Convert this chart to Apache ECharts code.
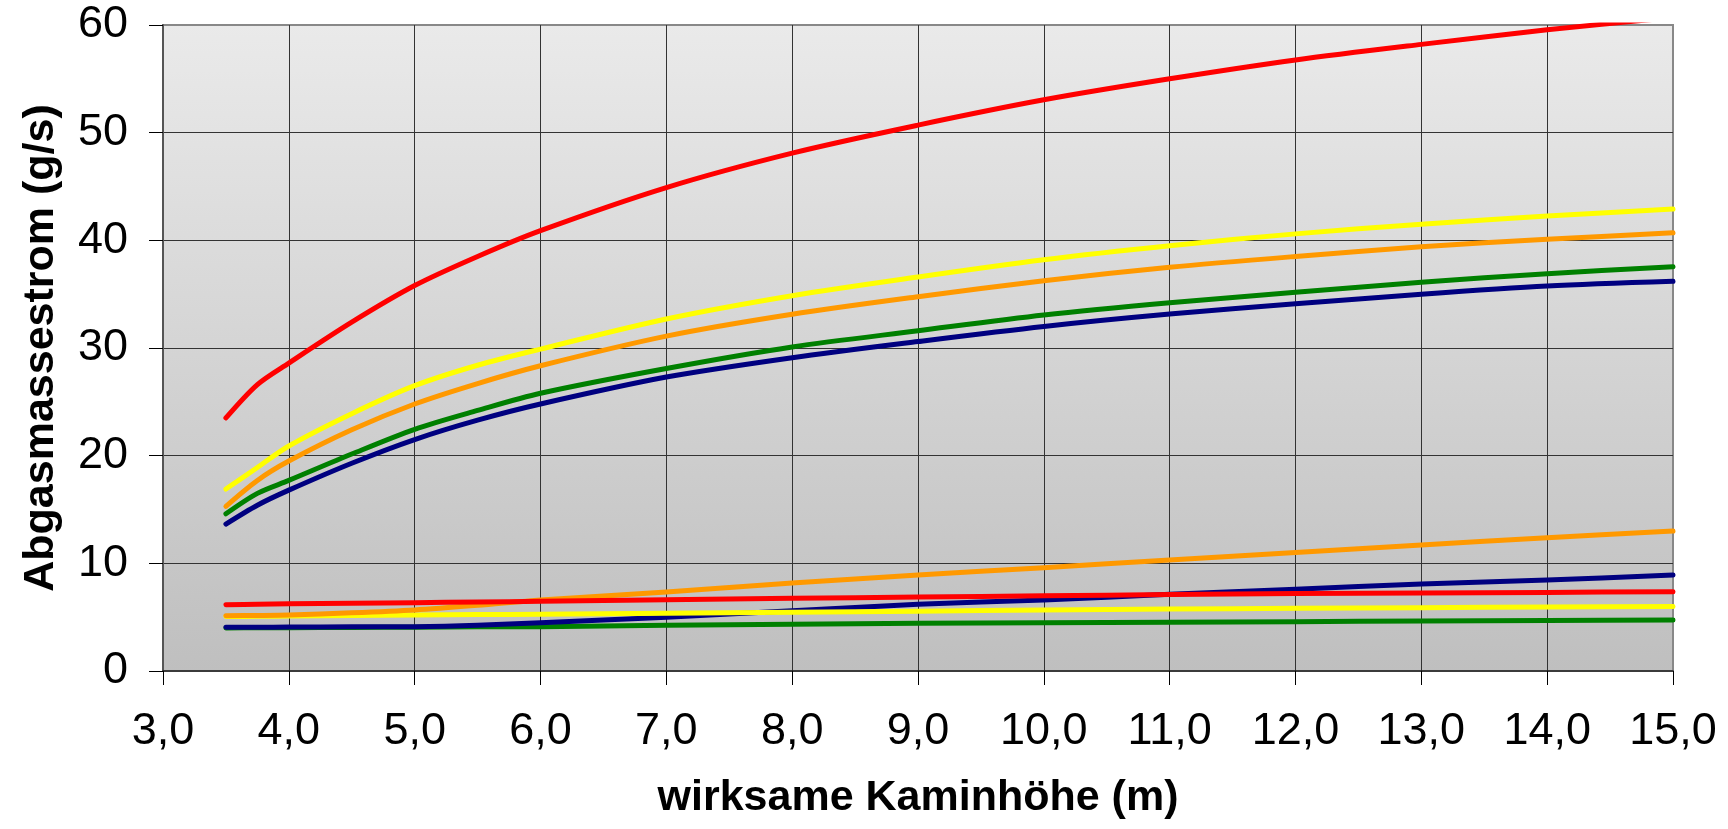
<!DOCTYPE html>
<html>
<head>
<meta charset="utf-8">
<script src="https://cdn.jsdelivr.net/npm/echarts@6/dist/echarts.min.js"></script>
<style>
html,body{margin:0;padding:0;background:#fff;}
#chart{width:1728px;height:829px;}
</style>
</head>
<body>
<div id="chart"></div>
<script>
// x positions (wirksame Kaminhöhe, m)
const xValues = [3.5, 3.75, 4, 4.5, 5, 5.5, 6, 7, 8, 9, 10, 11, 12, 13, 14, 15];

// upper group (g/s)
const upperRed    = [23.5, 26.6, 28.6, 32.4, 35.8, 38.5, 40.9, 44.9, 48.1, 50.7, 53.05, 55.0, 56.75, 58.2, 59.55, 60.7];
const upperYellow = [16.9, 18.9, 20.9, 23.9, 26.5, 28.4, 29.9, 32.7, 34.86, 36.6, 38.2, 39.5, 40.6, 41.5, 42.25, 42.9];
const upperOrange = [15.3, 17.7, 19.5, 22.4, 24.8, 26.7, 28.35, 31.1, 33.13, 34.76, 36.25, 37.5, 38.5, 39.4, 40.1, 40.7];
const upperGreen  = [14.6, 16.5, 17.7, 20.15, 22.45, 24.2, 25.8, 28.1, 30.1, 31.6, 33.06, 34.2, 35.17, 36.1, 36.9, 37.55];
const upperNavy   = [13.65, 15.4, 16.8, 19.3, 21.5, 23.3, 24.8, 27.3, 29.1, 30.6, 32.0, 33.15, 34.1, 35.0, 35.76, 36.2];

// lower group (g/s)
const lowerRed    = [6.16, 6.2, 6.25, 6.3, 6.35, 6.41, 6.47, 6.62, 6.75, 6.87, 6.98, 7.1, 7.2, 7.25, 7.3, 7.37];
const lowerOrange = [5.14, 5.16, 5.2, 5.4, 5.67, 6.1, 6.6, 7.34, 8.17, 8.92, 9.6, 10.31, 11.0, 11.7, 12.38, 13.0];
const lowerYellow = [5.06, 5.08, 5.1, 5.15, 5.2, 5.24, 5.27, 5.36, 5.45, 5.55, 5.67, 5.76, 5.82, 5.88, 5.94, 6.0];
const lowerNavy   = [4.06, 4.07, 4.08, 4.1, 4.12, 4.25, 4.49, 4.99, 5.6, 6.19, 6.6, 7.12, 7.59, 8.08, 8.45, 8.92];
const lowerGreen  = [4.0, 4.01, 4.02, 4.04, 4.07, 4.1, 4.12, 4.24, 4.35, 4.43, 4.48, 4.52, 4.58, 4.64, 4.7, 4.74];

const xTitle = 'wirksame Kaminhöhe (m)';
const yTitle = 'Abgasmassestrom (g/s)';

const RED = '#FF0000', YELLOW = '#FFFF00', ORANGE = '#FF9900', GREEN = '#008000', NAVY = '#000080';

const seriesDefs = [
  [upperNavy, NAVY], [upperGreen, GREEN], [upperOrange, ORANGE], [upperYellow, YELLOW], [upperRed, RED],
  [lowerGreen, GREEN], [lowerNavy, NAVY], [lowerYellow, YELLOW], [lowerOrange, ORANGE], [lowerRed, RED]
];

const FONT = '"Liberation Sans", Arial, sans-serif';

const chart = echarts.init(document.getElementById('chart'), null, {renderer: 'canvas'});
chart.setOption({
  animation: false,
  backgroundColor: '#ffffff',
  grid: {
    left: 163, top: 25, width: 1510, height: 646,
    show: true,
    backgroundColor: {
      type: 'linear', x: 0, y: 0, x2: 0, y2: 1,
      colorStops: [{offset: 0, color: '#EAEAEA'}, {offset: 1, color: '#BFBFBF'}]
    },
    borderColor: '#888888',
    borderWidth: 2
  },
  xAxis: {
    type: 'value', min: 3, max: 15, interval: 1,
    name: xTitle, nameLocation: 'middle', nameGap: 106,
    nameTextStyle: {fontSize: 43, fontWeight: 'bold', color: '#000', fontFamily: FONT},
    axisLine: {show: true, onZero: false, lineStyle: {color: '#222', width: 1.5}},
    axisTick: {show: true, length: 14, lineStyle: {color: '#000', width: 1}},
    axisLabel: {
      show: true, margin: 38, fontSize: 45, color: '#000', fontFamily: FONT,
      showMinLabel: true, showMaxLabel: true, hideOverlap: false,
      formatter: v => v.toFixed(1).replace('.', ',')
    },
    splitLine: {show: true, showMinLine: false, showMaxLine: false, lineStyle: {color: '#333', width: 1}}
  },
  yAxis: {
    type: 'value', min: 0, max: 60, interval: 10,
    name: yTitle, nameLocation: 'middle', nameGap: 100,
    nameTextStyle: {fontSize: 43, fontWeight: 'bold', color: '#000', fontFamily: FONT},
    axisLine: {show: true, onZero: false, lineStyle: {color: '#555', width: 2}},
    axisTick: {show: true, length: 14, lineStyle: {color: '#000', width: 1}},
    axisLabel: {
      show: true, margin: 35, fontSize: 45, color: '#000', fontFamily: FONT,
      showMinLabel: true, showMaxLabel: true, hideOverlap: false
    },
    splitLine: {show: true, showMinLine: false, showMaxLine: false, lineStyle: {color: '#333', width: 1}}
  },
  series: seriesDefs.map(([vals, color]) => ({
    type: 'line',
    data: xValues.map((x, i) => [x, vals[i]]),
    smooth: 0.3,
    symbol: 'none',
    clip: true,
    lineStyle: {color: color, width: 5, cap: 'round', join: 'round'},
    emphasis: {disabled: true}
  }))
});
</script>
</body>
</html>
